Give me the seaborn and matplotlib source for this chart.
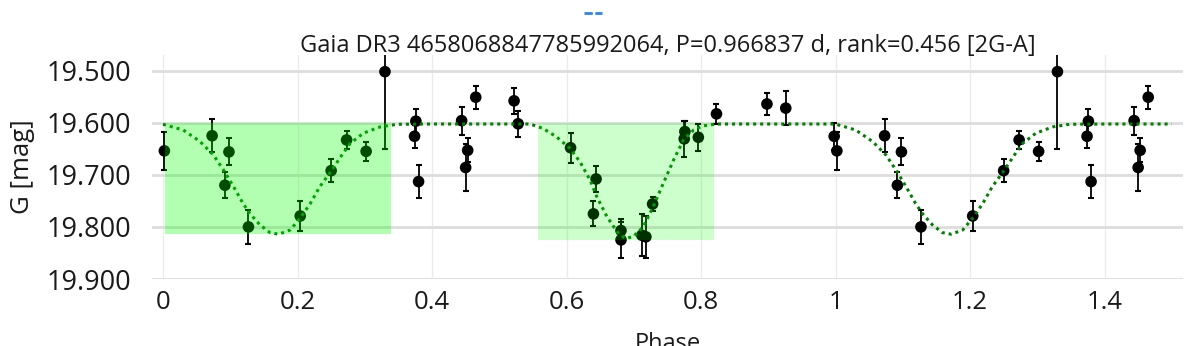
import matplotlib
matplotlib.use('Agg')
import matplotlib.pyplot as plt
import matplotlib.patches as mpatches
from matplotlib.lines import Line2D
import numpy as np
import pandas as pd
import seaborn as sns

# observed points, phase folded 0..1
phase = [0.002, 0.073, 0.092, 0.098, 0.127, 0.204, 0.250, 0.273, 0.302, 0.330,
         0.374, 0.376, 0.380, 0.444, 0.450, 0.453, 0.465, 0.522, 0.528, 0.606,
         0.640, 0.644, 0.681, 0.681, 0.712, 0.718, 0.728, 0.775, 0.776, 0.796,
         0.823, 0.898, 0.926, 0.998]
mag = [19.654, 19.625, 19.720, 19.656, 19.800, 19.779, 19.692, 19.633, 19.655, 19.502,
       19.626, 19.597, 19.713, 19.596, 19.686, 19.653, 19.551, 19.558, 19.602, 19.648,
       19.775, 19.708, 19.807, 19.825, 19.816, 19.819, 19.756, 19.631, 19.617, 19.628,
       19.583, 19.564, 19.572, 19.626]
mag_err = [0.037, 0.032, 0.025, 0.026, 0.032, 0.028, 0.022, 0.018, 0.018, 0.148,
           0.022, 0.024, 0.032, 0.027, 0.045, 0.023, 0.022, 0.025, 0.025, 0.029,
           0.024, 0.025, 0.022, 0.035, 0.040, 0.040, 0.014, 0.034, 0.020, 0.026,
           0.019, 0.021, 0.033, 0.026]

# model light curve
model_phase = [0.000, 0.030, 0.055, 0.075, 0.090, 0.105, 0.119, 0.129, 0.144, 0.159,
               0.172, 0.189, 0.204, 0.219, 0.233, 0.251, 0.266, 0.278, 0.298, 0.323,
               0.348, 0.400, 0.500, 0.546, 0.565, 0.585, 0.605, 0.620, 0.635, 0.645,
               0.660, 0.675, 0.687, 0.699, 0.714, 0.729, 0.744, 0.759, 0.774, 0.789,
               0.803, 0.823, 0.900, 1.000]
model_mag = [19.603, 19.614, 19.636, 19.662, 19.691, 19.723, 19.755, 19.774, 19.796, 19.811,
             19.814, 19.806, 19.783, 19.755, 19.723, 19.691, 19.662, 19.640, 19.620, 19.608,
             19.603, 19.6025, 19.6025, 19.6025, 19.611, 19.627, 19.649, 19.675, 19.710, 19.742,
             19.780, 19.809, 19.822, 19.819, 19.800, 19.761, 19.716, 19.672, 19.633, 19.614,
             19.606, 19.6025, 19.6025, 19.6025]

# eclipse windows (phase start, phase end, mag top, mag bottom, alpha)
eclipse_start = [0.003, 0.558]
eclipse_end = [0.339, 0.819]
eclipse_top = [19.600, 19.600]
eclipse_bottom = [19.8135, 19.825]
eclipse_alpha = [0.3, 0.2]

title = "Gaia DR3 4658068847785992064, P=0.966837 d, rank=0.456 [2G-A]"

# show 1.5 cycles
pts = pd.DataFrame({'phase': phase, 'mag': mag, 'err': mag_err})
pts = pd.concat([pts, pts[pts.phase < 0.5].assign(phase=lambda d: d.phase + 1)])
mod = pd.DataFrame({'phase': model_phase, 'mag': model_mag})
mod = pd.concat([mod, mod[mod.phase <= 0.5].assign(phase=lambda d: d.phase + 1)])
mod = mod.drop_duplicates('phase').sort_values('phase')

sns.set_style('white')
plt.rcParams['font.family'] = ['Open Sans', 'DejaVu Sans']

fig = plt.figure(figsize=(11.96, 3.46), dpi=100)
ax = fig.add_axes([152 / 1196, 1 - 279 / 346, (1183 - 152) / 1196, (279 - 55) / 346])

ax.errorbar(pts.phase, pts.mag, yerr=pts.err, fmt='none', ecolor='black',
            elinewidth=1.3, capsize=2.5, capthick=1.5, zorder=2)
sns.scatterplot(data=pts, x='phase', y='mag', color='black', s=70,
                edgecolor='none', ax=ax, zorder=3)
sns.lineplot(data=mod, x='phase', y='mag', color='#008000', lw=2.2,
             linestyle=(0, (1, 1.3)), sort=False, estimator=None, ax=ax, zorder=4)

# eclipse boxes sit above the points
for x0, x1, y0, y1, a in zip(eclipse_start, eclipse_end, eclipse_top, eclipse_bottom, eclipse_alpha):
    ax.add_patch(mpatches.Rectangle((x0, y0), x1 - x0, y1 - y0, facecolor='#00ff00',
                                    alpha=a, edgecolor='none', zorder=5))

ax.set_xlim(-0.0164, 1.5167)
ax.set_ylim(19.9, 19.470)
ax.set_xticks([0, 0.2, 0.4, 0.6, 0.8, 1, 1.2, 1.4])
ax.set_xticklabels(['0', '0.2', '0.4', '0.6', '0.8', '1', '1.2', '1.4'])
ax.set_yticks([19.5, 19.6, 19.7, 19.8, 19.9])
ax.set_yticklabels([f'{v:.3f}' for v in [19.5, 19.6, 19.7, 19.8, 19.9]])
ax.tick_params(axis='y', labelsize=19.5, length=0, pad=15, colors='#1a1a1a')
ax.tick_params(axis='x', labelsize=18.5, length=0, pad=8, colors='#1a1a1a')
ax.yaxis.grid(True, color='#dddddd', lw=2)
ax.xaxis.grid(True, color='#ebebeb', lw=1)
ax.set_axisbelow(True)
for s in ax.spines.values():
    s.set_visible(False)

ax.set_xlabel('Phase', fontsize=17, color='#1a1a1a', labelpad=12)
ax.set_ylabel('G [mag]', fontsize=18.5, color='#1a1a1a', labelpad=8)
fig.text(0.558, 1 - 52 / 346, title, ha='center', va='baseline', fontsize=17, color='#1a1a1a')

# legend stub at the top
fig.add_artist(Line2D([584 / 1196, 602 / 1196], [1 - 13 / 346] * 2, color='#2a86e8',
                      lw=2, linestyle=(0, (3, 0.9)), solid_capstyle='butt'))

fig.savefig('out.png', dpi=100)
